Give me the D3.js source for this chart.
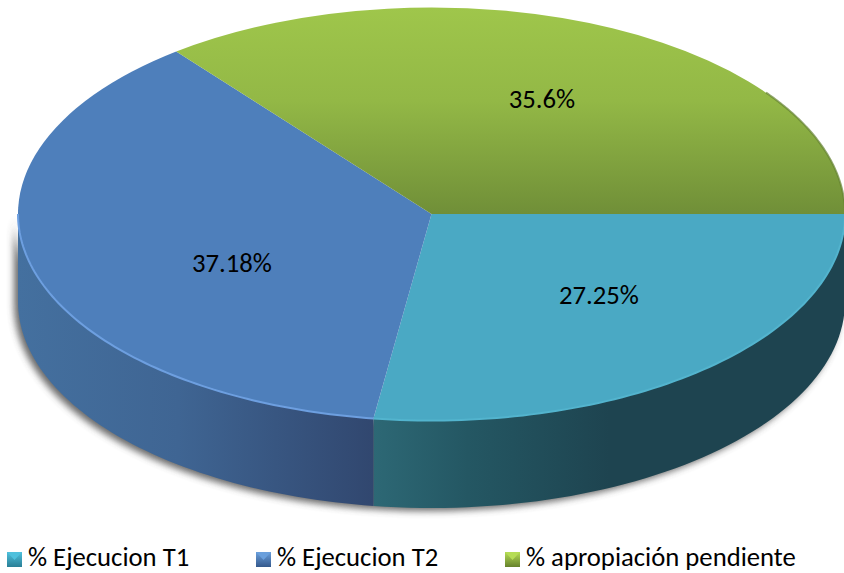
<!DOCTYPE html>
<html><head><meta charset="utf-8">
<script src="https://cdn.jsdelivr.net/npm/d3@7"></script>
<style>html,body{margin:0;background:#fff}svg{display:block}text{font-family:Carlito,"Open Sans","Noto Sans",sans-serif;fill:#000}</style>
</head><body><svg id="c" width="844" height="573"></svg>
<script>
const categories = ["% Ejecucion T1", "% Ejecucion T2", "% apropiación pendiente"];
const values = [27.25, 37.18, 35.6];
const labels = ["27.25%", "37.18%", "35.6%"];
const topColors = ["#4aa9c4", "#4e7fbb", "url(#greenTop)"];
const edgeColors = ["#52b4ce", "#6d9fe0", "#63802f"];
const wallStart = ["#2d6875", "#44709f", "#6f8f38"];
const wallMid = ["#245763", "#3f6593", "#6f8f38"];
const wallEnd = ["#1e4450", "#31476f", "#6f8f38"];
const swatchColors = [["#4fc0dc", "#2a7f96"], ["#6a9fdc", "#35598c"], ["#b5dc55", "#66822c"]];

const cx = 431.5, cy = 214, rx = 413.5, ry = 206.5, depth = 87.5;
const svg = d3.select("#c");
const defs = svg.append("defs");

const pie = d3.pie().sort(null).value(d => d).startAngle(Math.PI / 2).endAngle(Math.PI * 2.5);
const arcs = pie(values);

const blur = defs.append("filter").attr("id", "blur").attr("x", "-10%").attr("y", "-10%").attr("width", "120%").attr("height", "120%");
blur.append("feGaussianBlur").attr("stdDeviation", 3.5);
const edgeBlur = defs.append("filter").attr("id", "eb").attr("x", "-5%").attr("y", "-5%").attr("width", "110%").attr("height", "110%");
edgeBlur.append("feGaussianBlur").attr("stdDeviation", 0.7);

const topGrad = defs.append("linearGradient").attr("id", "greenTop").attr("gradientUnits", "userSpaceOnUse")
  .attr("x1", 0).attr("x2", 0).attr("y1", -rx).attr("y2", 0);
[["0%", "#9fc64b"], ["45%", "#93b846"], ["100%", "#708f38"]].forEach(s => topGrad.append("stop").attr("offset", s[0]).attr("stop-color", s[1]));

const px = a => cx + rx * Math.sin(a);
const py = a => cy - ry * Math.cos(a);
const sweep = (a0, a1, n) => d3.range(0, n + 1).map(k => a0 + (a1 - a0) * k / n);
const clampFront = d => [Math.max(d.startAngle, Math.PI / 2), Math.min(d.endAngle, Math.PI * 1.5)];
function wallPath(a0, a1, dy = depth) {
  const angs = sweep(a0, a1, 60);
  const pts = angs.map(a => [px(a), py(a)]).concat(angs.slice().reverse().map(a => [px(a), py(a) + dy]));
  return d3.line()(pts) + "Z";
}

svg.append("path").attr("d", wallPath(Math.PI / 2, Math.PI * 1.5))
  .attr("transform", "translate(-4,3)").attr("fill", "#444").attr("opacity", .8).attr("filter", "url(#blur)");

const fronts = arcs.map(clampFront);
arcs.forEach((d, i) => {
  const [a0, a1] = fronts[i];
  if (a1 <= a0) return;
  const g = defs.append("linearGradient").attr("id", "wall" + i).attr("gradientUnits", "userSpaceOnUse")
    .attr("x1", px(a0)).attr("x2", px(a1)).attr("y1", 0).attr("y2", 0);
  const stops = i === 0
    ? [[0, wallEnd[i]], [.5, wallEnd[i]], [.8, wallMid[i]], [1, wallStart[i]]]
    : [[0, wallEnd[i]], [.55, wallMid[i]], [1, wallStart[i]]];
  stops.forEach(s => g.append("stop").attr("offset", s[0]).attr("stop-color", s[1]));
  svg.append("path").attr("d", wallPath(a0, a1)).attr("fill", `url(#wall${i})`);
});

const arc = d3.arc().innerRadius(0).outerRadius(rx);
svg.append("g").attr("transform", `translate(${cx},${cy}) scale(1,${ry / rx})`)
  .selectAll("path").data(arcs).join("path")
  .attr("d", arc)
  .attr("fill", (d, i) => topColors[i]);

const rims = [fronts[0], fronts[1], [Math.PI * 2.3, arcs[2].endAngle]];
const rimOpacity = [1, 1, .7];
rims.forEach((r, i) => {
  svg.append("path").attr("d", d3.line()(sweep(r[0], r[1], 80).map(a => [px(a), py(a)])))
    .attr("fill", "none").attr("stroke", edgeColors[i]).attr("stroke-width", 2)
    .attr("stroke-opacity", rimOpacity[i]).attr("filter", "url(#eb)");
});

const labelPos = d3.scaleOrdinal().domain(categories).range([[599, 295], [232, 263], [542, 99]]);
svg.selectAll("text.v").data(labels).join("text").attr("class", "v")
  .attr("x", (d, i) => labelPos(categories[i])[0])
  .attr("y", (d, i) => labelPos(categories[i])[1])
  .attr("text-anchor", "middle").attr("dominant-baseline", "central")
  .attr("font-size", 26.7).text(d => d);

const legX = d3.scaleOrdinal().domain(categories).range([7, 256, 505]);
const lg = svg.append("g");
categories.forEach((c, i) => {
  const g = defs.append("linearGradient").attr("id", "sw" + i).attr("x1", 0).attr("x2", 0).attr("y1", 0).attr("y2", 1);
  g.append("stop").attr("offset", 0).attr("stop-color", swatchColors[i][0]);
  g.append("stop").attr("offset", 1).attr("stop-color", swatchColors[i][1]);
  lg.append("rect").attr("x", legX(c)).attr("y", 552).attr("width", 15).attr("height", 15).attr("fill", `url(#sw${i})`);
  lg.append("path").attr("d", d3.line()([[legX(c), 552], [legX(c) + 7.5, 560], [legX(c) + 15, 552]]) + "Z").attr("fill", swatchColors[i][0]);
  lg.append("text").attr("x", legX(c) + 21).attr("y", 566).attr("font-size", 26.7).text(c);
});
</script></body></html>
